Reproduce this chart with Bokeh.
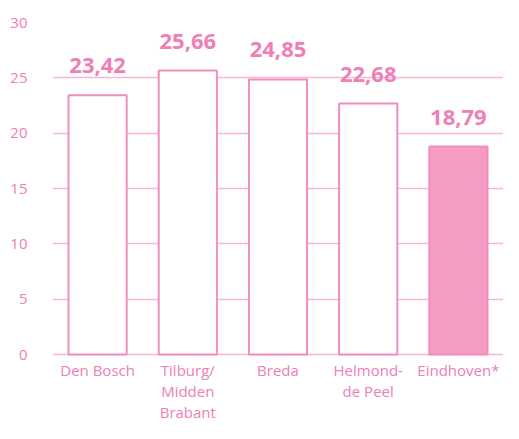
from bokeh.plotting import figure
from bokeh.models import ColumnDataSource, LabelSet, FactorRange, Range1d, FixedTicker
from bokeh.core.properties import value
from bokeh.embed import file_html
from bokeh.resources import INLINE

categories = ["Den Bosch", "Tilburg/\nMidden\nBrabant", "Breda", "Helmond-\nde Peel", "Eindhoven*"]
values = [23.42, 25.66, 24.85, 22.68, 18.79]
value_labels = ["23,42", "25,66", "24,85", "22,68", "18,79"]
fills = ["white", "white", "white", "white", "#F49CC4"]
y_ticks = [0, 5, 10, 15, 20, 25, 30]

PINK = "#EE80B5"
LINE = "#F08DBE"
GRID = "#F6B7D4"
FONT = "Open Sans"

src = ColumnDataSource(dict(cat=categories, val=values, lab=value_labels, fill=fills,
                            base=[0] * len(categories)))

TOP = 22        # px from top of figure to the 30-line
ZERO = 354      # px from top of figure to the 0-line
H = 423
below = H - ZERO
p = figure(width=503, height=H, output_backend="svg", toolbar_location=None,
           x_range=FactorRange(*categories, range_padding=0.0),
           y_range=Range1d(-below * 30 / (ZERO - TOP), 30),
           min_border_left=52, min_border_right=0, min_border_top=TOP, min_border_bottom=0)
p.outline_line_color = None
p.background_fill_color = "white"
p.border_fill_color = "white"

p.vbar(x="cat", top="val", width=0.645, source=src, fill_color="fill",
       line_color=LINE, line_width=2)

labels = LabelSet(x="cat", y="val", text="lab", source=src, text_align="center",
                  text_baseline="alphabetic", y_offset=22, text_color=PINK,
                  text_font_size="22px", text_font_style="bold", text_font=value(FONT))
p.add_layout(labels)

# category labels under the 0-line
p.text(x="cat", y="base", text="cat", source=src, text_align="center",
       text_baseline="top", y_offset=5, text_color=PINK, text_font=value(FONT),
       text_font_size="15px", text_line_height=1.05)

p.xgrid.grid_line_color = None
p.ygrid.grid_line_color = GRID
p.ygrid.grid_line_width = 1.5
p.ygrid.ticker = FixedTicker(ticks=y_ticks)

p.xaxis.visible = False

p.yaxis.ticker = FixedTicker(ticks=y_ticks)
p.yaxis.axis_line_color = None
p.yaxis.major_tick_line_color = None
p.yaxis.minor_tick_line_color = None
p.yaxis.major_label_text_color = PINK
p.yaxis.major_label_text_font = FONT
p.yaxis.major_label_text_font_size = "15px"
p.yaxis.major_label_standoff = 19

open("out.html", "w").write(file_html(p, INLINE))
